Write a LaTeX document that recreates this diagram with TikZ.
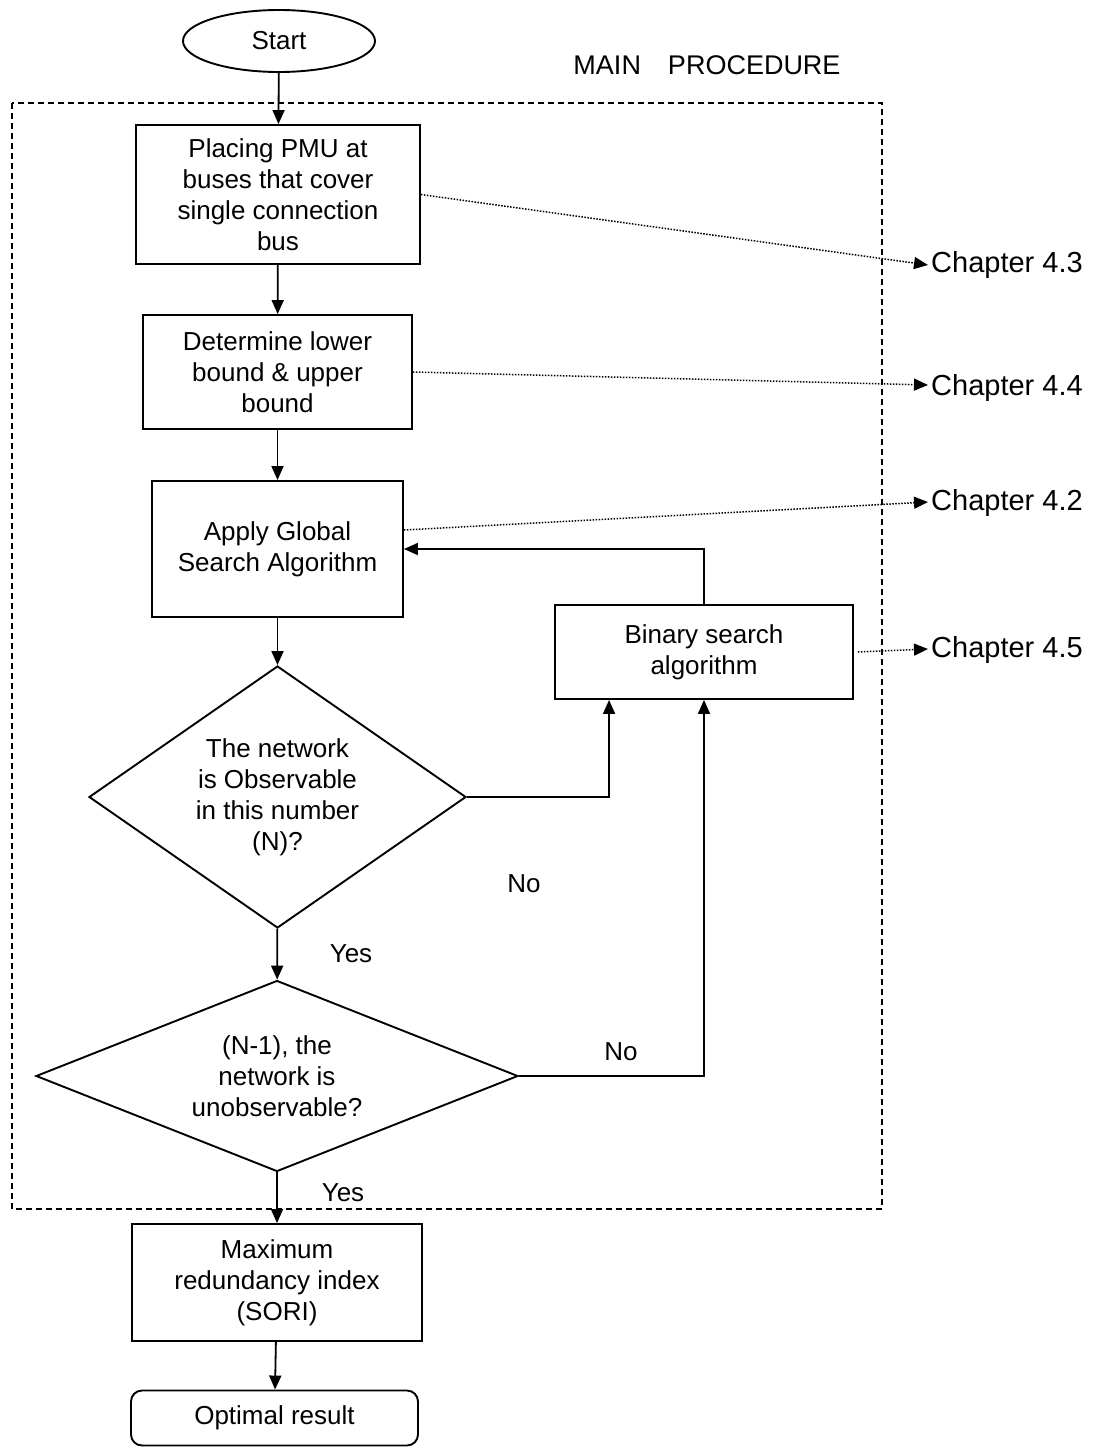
\documentclass[tikz,border=0pt]{standalone}
\usepackage{fontspec}
\setmainfont{Liberation Sans}
\usetikzlibrary{shapes.geometric,arrows.meta}

\begin{document}
\begin{tikzpicture}[x=1pt,y=-1pt,
  every node/.style={font=\fontsize{26}{31}\selectfont, inner sep=0pt, align=center},
  procbox/.style={draw, line width=1.9pt, rectangle},
  decision/.style={draw, line width=1.9pt, diamond},
  terminal/.style={draw, line width=1.9pt, ellipse},
  flow/.style={line width=1.8pt, -{Triangle[length=14pt,width=12pt]}},
  link/.style={line width=1.5pt, dash pattern=on 1.5pt off 1.5pt, -{Triangle[length=14pt,width=12pt]}},
  chap/.style={anchor=west, inner sep=3pt, font=\fontsize{29}{34}\selectfont},
  tag/.style={font=\fontsize{26}{31}\selectfont}
]
\useasboundingbox (0,0) rectangle (1097,1448);

% frame of the main procedure
\draw[line width=1.2pt, dash pattern=on 6pt off 4pt] (12,103) rectangle (882,1209);
\node (title) at (707,65) {\fontsize{27}{31}\selectfont MAIN\hspace{27pt}PROCEDURE};

% flow chart nodes
\node[terminal, minimum width=192pt, minimum height=62pt] (start) at (279,41) {Start};
\node[procbox, minimum width=284pt, minimum height=139pt] (place) at (278,194.5)
  {Placing PMU at\\buses that cover\\single connection\\bus};
\node[procbox, minimum width=269pt, minimum height=114pt] (bound) at (277.5,372)
  {Determine lower\\bound \& upper\\bound};
\node[procbox, minimum width=251pt, minimum height=136pt] (apply) at (277.5,549)
  {Apply Global\\Search Algorithm};
\node[procbox, minimum width=298pt, minimum height=94pt] (binary) at (704,652)
  {Binary search\\algorithm};
\node[decision, aspect=1.44, minimum width=377pt, minimum height=262pt] (obs) at (277.5,797)
  {The network\\is Observable\\in this number\\(N)?};
\node[decision, aspect=2.52, minimum width=482pt, minimum height=191pt] (unobs) at (277,1076)
  {(N-1), the\\network is\\unobservable?};
\node[procbox, minimum width=290pt, minimum height=117pt] (maxri) at (277,1282.5)
  {Maximum\\redundancy index\\(SORI)};
\node[procbox, rounded corners=11pt, minimum width=287pt, minimum height=55pt] (result) at (274.5,1418)
  {Optimal result};

% chapter references
\node[chap] (c43) at (928,265) {Chapter 4.3};
\node[chap] (c44) at (928,388) {Chapter 4.4};
\node[chap] (c42) at (928,503) {Chapter 4.2};
\node[chap] (c45) at (928,650) {Chapter 4.5};

% branch labels
\node[tag] (yes1) at (351,954) {Yes};
\node[tag] (no1) at (524,884) {No};
\node[tag] (no2) at (621,1052) {No};
\node[tag] (yes2) at (343,1193) {Yes};

% main flow
\draw[flow] (start) -- (place);
\draw[flow] (place) -- (bound);
\draw[flow] (bound) -- (apply);
\draw[flow] (apply) -- (obs);
\draw[flow] (obs) -- (unobs);
\draw[flow] (unobs) -- (maxri);
\draw[flow] (maxri) -- (result);
\draw[flow] (obs.east) -| ([xshift=55pt]binary.south west);
\draw[flow] (unobs.east) -| (binary.south);
\draw[flow] (binary.north) |- (apply.east);

% links to chapters
\draw[link] (place.east) -- (c43.west);
\draw[link] (bound.east) -- ([yshift=3pt]c44.west);
\draw[link] ([yshift=19pt]apply.east) -- ([yshift=1pt]c42.west);
\draw[link] ([xshift=4pt]binary.east) -- ([yshift=1pt]c45.west);
\end{tikzpicture}
\end{document}
